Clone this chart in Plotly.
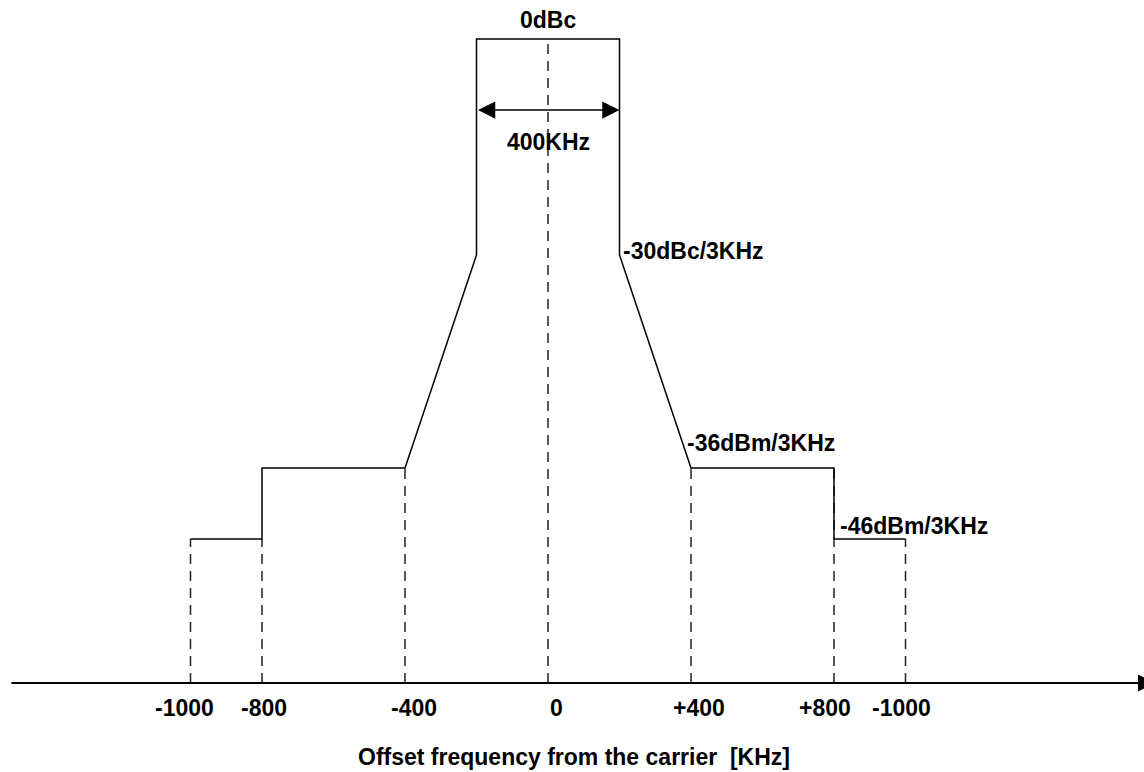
import plotly.graph_objects as go

# ---- data (schematic spectrum mask) ----
mask_freq_khz = [-1000, -800, -800, -400, -200, -200, 200, 200, 400, 800, 800, 1000]
# relative diagram heights of the mask levels above the frequency axis
level_0dbc = 644
level_m30 = 428
level_m36 = 215
level_m46 = 144
mask_level = [level_m46, level_m46, level_m36, level_m36, level_m30, level_0dbc,
              level_0dbc, level_m30, level_m36, level_m36, level_m46, level_m46]

guide_freq_khz = [-1000, -800, -400, 0, 400, 800, 1000]
guide_top = [level_m46, level_m46, level_m36, level_0dbc, level_m36, level_m36, level_m46]

tick_vals = [-1000, -800, -400, 0, 400, 800, 1000]
tick_text = ["-1000", "-800", "-400", "0", "+400", "+800", "-1000"]
tick_xshift = [-6, 2, 9, 8, 8, -9, -4]

bandwidth_khz = [-200, 200]
bandwidth_level = 573

mask_labels = ["0dBc", "400KHz", "-30dBc/3KHz", "-36dBm/3KHz", "-46dBm/3KHz"]
axis_title = "Offset frequency from the carrier  [KHz]"

# ---- layout geometry ----
W, H = 1144, 772
px_per_khz = 0.3575
x0_px = 548
base_px = 683
x_range = [-x0_px / px_per_khz, (W - x0_px) / px_per_khz]
y_range = [-(H - base_px), base_px]

FONT = dict(family="Liberation Sans, Arial, sans-serif", size=23, color="black", weight="bold")

fig = go.Figure()

# dashed guide lines
gx, gy = [], []
for f, t in zip(guide_freq_khz, guide_top):
    gx += [f, f, None]
    gy += [0, t, None]
fig.add_trace(go.Scatter(x=gx, y=gy, mode="lines",
                         line=dict(color="#222222", width=1.5, dash="10px,7px"),
                         hoverinfo="skip", showlegend=False))

# mask outline
fig.add_trace(go.Scatter(x=mask_freq_khz, y=mask_level, mode="lines",
                         line=dict(color="black", width=1.5),
                         hoverinfo="skip", showlegend=False))

annotations = []
# frequency axis with arrow
annotations.append(dict(x=(1155 - x0_px) / px_per_khz, y=0, ax=(10 - x0_px) / px_per_khz, ay=0,
                        xref="x", yref="y", axref="x", ayref="y", text="", showarrow=True,
                        arrowhead=2, arrowsize=1.7, arrowwidth=2, arrowcolor="black"))
# bandwidth double arrow
annotations.append(dict(x=bandwidth_khz[1], y=bandwidth_level, ax=bandwidth_khz[0], ay=bandwidth_level,
                        xref="x", yref="y", axref="x", ayref="y", text="", showarrow=True,
                        arrowhead=2, startarrowhead=2, arrowside="end+start",
                        arrowsize=2.3, startarrowsize=2.3, arrowwidth=1.5, arrowcolor="black"))

# tick labels
for v, t, s in zip(tick_vals, tick_text, tick_xshift):
    annotations.append(dict(x=v, y=0, xref="x", yref="y", text=t, showarrow=False,
                            xanchor="center", yanchor="middle", xshift=s, yshift=-25, font=FONT))

# mask labels
annotations += [
    dict(x=0, y=level_0dbc, text=mask_labels[0], xanchor="center", yanchor="middle", yshift=19),
    dict(x=0, y=bandwidth_level, text=mask_labels[1], xanchor="center", yanchor="middle", yshift=-32),
    dict(x=200, y=level_m30, text=mask_labels[2], xanchor="left", yanchor="middle", xshift=1, yshift=4),
    dict(x=400, y=level_m36, text=mask_labels[3], xanchor="left", yanchor="middle", xshift=-6, yshift=25),
    dict(x=800, y=level_m46, text=mask_labels[4], xanchor="left", yanchor="middle", xshift=4, yshift=13),
]
for a in annotations[-5:]:
    a.update(xref="x", yref="y", showarrow=False, font=FONT)

# axis title
annotations.append(dict(x=(574 - x0_px) / px_per_khz, y=-(757 - base_px), xref="x", yref="y",
                        text=axis_title, showarrow=False, xanchor="center", yanchor="middle", font=FONT))

fig.update_layout(
    width=W, height=H,
    margin=dict(l=0, r=0, t=0, b=0),
    paper_bgcolor="white", plot_bgcolor="white",
    xaxis=dict(range=x_range, visible=False, fixedrange=True),
    yaxis=dict(range=y_range, visible=False, fixedrange=True),
    annotations=annotations,
    showlegend=False,
)

fig.write_html("out.html", config={"displayModeBar": False},
               post_script="document.body.style.margin='0';document.body.style.overflow='hidden';")
